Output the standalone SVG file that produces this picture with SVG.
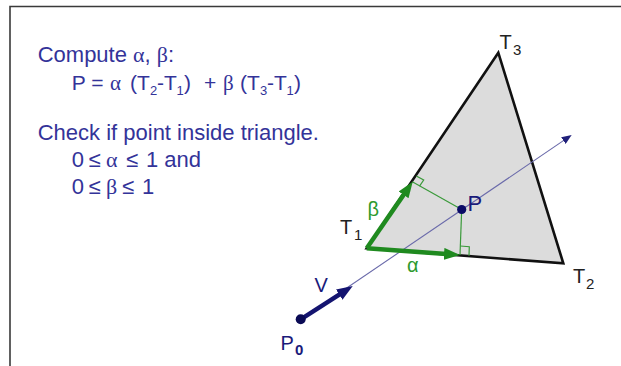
<svg xmlns="http://www.w3.org/2000/svg" width="621" height="366" viewBox="0 0 621 366">
<style>
.txt{font-family:"Liberation Sans",Arial,sans-serif;font-size:22px;fill:#333399}
.gk{font-family:"Liberation Serif","Times New Roman",serif}
.sub{font-size:13px}
.lbl{font-family:"Liberation Sans",Arial,sans-serif;font-size:20px;fill:#222}
.lsub{font-size:15px}
.navy{fill:#1a1a7a}
.green{fill:#2e9a2e}
.garrow{stroke:#1f8a1f;stroke-width:4.5;fill:none}
.gthin{stroke:#3a9a3a;stroke-width:1.2;fill:none}
</style>
<defs>
<marker id="gHead" viewBox="0 0 16 12" markerWidth="16" markerHeight="12" refX="6" refY="6" orient="auto" markerUnits="userSpaceOnUse"><path d="M0,0 L16,6 L0,12 z" fill="#1f8a1f"/></marker>
<marker id="vHead" viewBox="0 0 16 12" markerWidth="16" markerHeight="12" refX="6" refY="6" orient="auto" markerUnits="userSpaceOnUse"><path d="M0,0 L16,6 L0,12 z" fill="#141470"/></marker>
<marker id="rHead" viewBox="0 0 10 8" markerWidth="10" markerHeight="8" refX="4" refY="4" orient="auto" markerUnits="userSpaceOnUse"><path d="M0,0 L10,4 L0,8 z" fill="#20207a"/></marker>
</defs>
<rect width="621" height="366" fill="#fff"/>
<g id="frame" fill="none">
<path d="M10,366 V6.5 H621" stroke="#3a3a3a" stroke-width="1.6"/>
</g>
<g id="text-block">
<text class="txt" x="37.7" y="62">Compute <tspan class="gk">α</tspan>, <tspan class="gk">β</tspan>:</text>
<text class="txt" y="89.5" style="font-size:21px"><tspan x="71.7">P =</tspan><tspan class="gk" x="110">α</tspan><tspan x="130">(T</tspan><tspan class="sub" x="150" y="95">2</tspan><tspan x="157" y="89.5">-T</tspan><tspan class="sub" x="176.5" y="95">1</tspan><tspan x="184" y="89.5">)</tspan><tspan x="204">+</tspan><tspan class="gk" x="223">β</tspan><tspan x="240">(T</tspan><tspan class="sub" x="260" y="95">3</tspan><tspan x="267" y="89.5">-T</tspan><tspan class="sub" x="286.5" y="95">1</tspan><tspan x="294" y="89.5">)</tspan></text>
<text class="txt" x="37.7" y="139.5">Check if point inside triangle.</text>
<text class="txt" y="166.5"><tspan x="71.7">0</tspan><tspan x="88.5">≤</tspan><tspan class="gk" x="106">α</tspan><tspan x="126">≤</tspan><tspan x="146">1 and</tspan></text>
<text class="txt" y="193.5"><tspan x="71.7">0</tspan><tspan x="88.5">≤</tspan><tspan class="gk" x="106">β</tspan><tspan x="122">≤</tspan><tspan x="142">1</tspan></text>
</g>
<g id="triangle">
<polygon points="366.7,248.3 563.3,263.3 498.3,52.7" fill="#dcdcdc" stroke="#111" stroke-width="2.6" stroke-linejoin="miter"/>
</g>
<g id="connectors">
<line id="ray" x1="300.7" y1="319.3" x2="566.7" y2="138.4" stroke="#6a6aaa" stroke-width="1.1" marker-end="url(#rHead)"/>
<line id="perp-beta" class="gthin" x1="461.7" y1="209.5" x2="412.3" y2="181.8"/>
<line id="perp-alpha" class="gthin" x1="461.7" y1="209.5" x2="460" y2="255"/>
<polyline class="gthin" points="416.3,175.9 423.7,180 419.5,186.1"/>
<polyline class="gthin" points="469,255.7 469.3,246.7 460.3,246"/>
<line id="beta-arrow" class="garrow" x1="366.7" y1="248.3" x2="407" y2="189.9" marker-end="url(#gHead)"/>
<line id="alpha-arrow" class="garrow" x1="366.7" y1="248.3" x2="450" y2="254.3" marker-end="url(#gHead)"/>
<line id="v-arrow" x1="300.7" y1="319.3" x2="344.3" y2="291.4" stroke="#141470" stroke-width="4.5" marker-end="url(#vHead)"/>
</g>
<g id="node-P">
<circle cx="461.7" cy="209.5" r="4.6" fill="#0a0a66"/>
<text class="lbl navy" x="467.5" y="211" style="font-size:22px">P</text>
</g>
<g id="node-P0">
<circle cx="300.7" cy="319.3" r="5" fill="#0a0a55"/>
<text class="lbl navy" x="280.5" y="350">P<tspan class="lsub" x="295" y="355" font-weight="bold">0</tspan></text>
</g>
<g id="label-V">
<text class="lbl navy" x="314.5" y="292">V</text>
</g>
<g id="node-T1">
<text class="lbl" x="340" y="234">T<tspan class="lsub" x="354" y="240">1</tspan></text>
</g>
<g id="node-T2">
<text class="lbl" x="573" y="283">T<tspan class="lsub" x="586" y="289">2</tspan></text>
</g>
<g id="node-T3">
<text class="lbl" x="499.5" y="49">T<tspan class="lsub" x="513" y="55">3</tspan></text>
</g>
<g id="label-alpha">
<text class="lbl green gk" x="407" y="272" style="font-size:20px">α</text>
</g>
<g id="label-beta">
<text class="lbl green" x="367.5" y="216" style="font-size:20px">β</text>
</g>
</svg>
